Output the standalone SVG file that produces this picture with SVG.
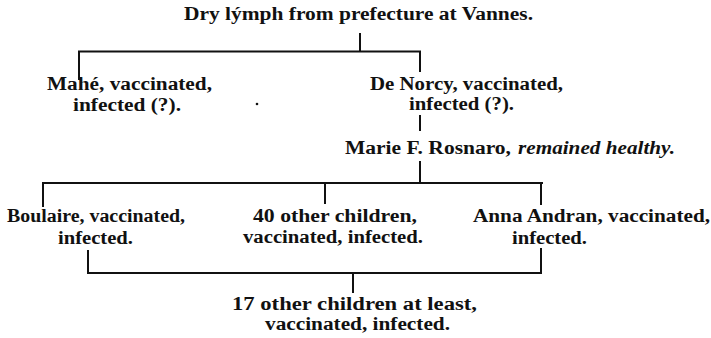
<svg xmlns="http://www.w3.org/2000/svg" width="711" height="338" viewBox="0 0 711 338">
<style>
  .t { font-family: "Liberation Serif", "DejaVu Serif", serif; font-weight: bold; font-size: 18px; fill: #111; }
  .i { font-style: italic; }
  .c line { stroke: #111; stroke-width: 2; stroke-linecap: butt; }
</style>
<rect width="711" height="338" fill="#fff"/>
<g id="connectors" class="c">
  <line x1="360" y1="33" x2="360" y2="51.5"/>
  <line x1="78" y1="51.5" x2="421" y2="51.5"/>
  <line x1="79" y1="51" x2="79" y2="80"/>
  <line x1="420" y1="51" x2="420" y2="72"/>
  <line x1="420" y1="115" x2="420" y2="131"/>
  <line x1="420" y1="161" x2="420" y2="183"/>
  <line x1="42" y1="183" x2="543" y2="183"/>
  <line x1="43" y1="182" x2="43" y2="207"/>
  <line x1="325" y1="182" x2="325" y2="204"/>
  <line x1="541" y1="182" x2="541" y2="205"/>
  <line x1="88" y1="250" x2="88" y2="274"/>
  <line x1="541" y1="248" x2="541" y2="274"/>
  <line x1="87" y1="273" x2="542" y2="273"/>
  <line x1="353" y1="273" x2="353" y2="293"/>
</g>
<g id="source">
  <text class="t" x="184" y="20" textLength="349" lengthAdjust="spacingAndGlyphs">Dry lýmph from prefecture at Vannes.</text>
</g>
<g id="mahe">
  <text class="t" x="47" y="90" textLength="165" lengthAdjust="spacingAndGlyphs">Mahé, vaccinated,</text>
  <text class="t" x="73" y="111" textLength="108" lengthAdjust="spacingAndGlyphs">infected (?).</text>
</g>
<g id="denorcy">
  <text class="t" x="370" y="90" textLength="193" lengthAdjust="spacingAndGlyphs">De Norcy, vaccinated,</text>
  <text class="t" x="409" y="110" textLength="105" lengthAdjust="spacingAndGlyphs">infected (?).</text>
</g>
<g id="marie">
  <text class="t" x="345" y="154" textLength="166" lengthAdjust="spacingAndGlyphs">Marie F. Rosnaro,</text>
  <text class="t i" x="518" y="154" textLength="157" lengthAdjust="spacingAndGlyphs">remained healthy.</text>
</g>
<g id="boulaire">
  <text class="t" x="7" y="222" textLength="178" lengthAdjust="spacingAndGlyphs">Boulaire, vaccinated,</text>
  <text class="t" x="58" y="244" textLength="75" lengthAdjust="spacingAndGlyphs">infected.</text>
</g>
<g id="others40">
  <text class="t" x="253" y="222" textLength="164" lengthAdjust="spacingAndGlyphs">40 other children,</text>
  <text class="t" x="243" y="243" textLength="180" lengthAdjust="spacingAndGlyphs">vaccinated, infected.</text>
</g>
<g id="anna">
  <text class="t" x="473" y="222" textLength="237" lengthAdjust="spacingAndGlyphs">Anna Andran, vaccinated,</text>
  <text class="t" x="512" y="244" textLength="75" lengthAdjust="spacingAndGlyphs">infected.</text>
</g>
<g id="others17">
  <text class="t" x="232" y="310" textLength="245" lengthAdjust="spacingAndGlyphs">17 other children at least,</text>
  <text class="t" x="265" y="330" textLength="185" lengthAdjust="spacingAndGlyphs">vaccinated, infected.</text>
</g>
<circle cx="257" cy="104" r="1.3" fill="#111"/>
</svg>
